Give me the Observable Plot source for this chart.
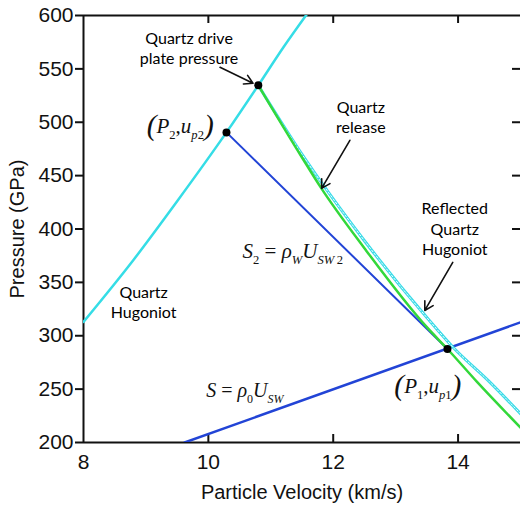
<!DOCTYPE html>
<html><head><meta charset="utf-8">
<script src="https://cdn.jsdelivr.net/npm/d3@7"></script>
<script src="https://cdn.jsdelivr.net/npm/@observablehq/plot@0.6"></script>
<style>body{margin:0;background:#fff} #chart svg{display:block}</style>
</head><body><div id="chart"></div>
<script>
// Quartz Hugoniot (cyan)
const hugoniotU = [8, 8.8, 9.5, 10.29, 10.8, 11.2, 11.6];
const hugoniotP = [313, 371, 426, 490.5, 534.6, 570, 603];
// Quartz release (green)
const releaseU = [10.8, 11.5, 11.8, 12.5, 13.5, 13.83, 14.3, 15];
const releaseP = [534.6, 467, 439, 382, 308, 287.6, 257, 214];
// Reflected quartz Hugoniot (cyan dashed)
const reflectU = [10.8, 11.5, 12.5, 13.5, 13.93, 14.5, 15];
const reflectP = [534.6, 470, 389, 317, 288.5, 257, 227];
// S = rho0 Usw (blue)
const sU = [9.62, 15];
const sP = [200, 312.6];
// S2 = rhoW Usw2 (blue)
const s2U = [10.29, 13.83];
const s2P = [490.5, 287.6];
// Marked states
const pointU = [10.29, 10.8, 13.83];
const pointP = [490.5, 534.6, 287.6];
// Axis ticks
const xTicks = [8, 10, 12, 14];
const yTicks = [200, 250, 300, 350, 400, 450, 500, 550, 600];
// Annotations (text, anchor in data units)
const noteText = ["Quartz drive\nplate pressure", "Quartz\nrelease", "Reflected\nQuartz\nHugoniot", "Quartz\nHugoniot"];
const noteU = [9.691, 12.443, 13.947, 8.963];
const noteP = [554.3, 489.6, 375.2, 316.2];
const noteLH = [1.25, 1.25, 1.3, 1.25];
const arrowU1 = [10.187, 12.267, 13.915];
const arrowP1 = [551.5, 483.1, 368.7];
const arrowU2 = [10.715, 11.814, 13.467];
const arrowP2 = [536.5, 438.1, 323.7];
// Math labels
const mathU = [9.02, 10.555, 9.974, 12.987];
const mathP = [489.6, 372.4, 242.4, 245.8];

const rows = (u, p) => u.map((x, i) => ({u: x, p: p[i]}));
const hug = rows(hugoniotU, hugoniotP);
const rel = rows(releaseU, releaseP);
const refl = rows(reflectU, reflectP);
const sLine = rows(sU, sP);
const s2Line = rows(s2U, s2P);
const pts = rows(pointU, pointP);
const notes = noteText.map((t, i) => ({t, u: noteU[i], p: noteP[i], lh: noteLH[i]}));
const arrows = arrowU1.map((x, i) => ({x1: x, y1: arrowP1[i], x2: arrowU2[i], y2: arrowP2[i]}));

const W = 520, H = 506, mL = 83, mR = 0, mT = 15, mB = 64;
const fw = W - mL - mR, fh = H - mT - mB;

const cyan = "#35dde6", blue = "#2244d6", green = "#33d83a";
const noteFont = "Lato, 'Open Sans', sans-serif";

const plot = Plot.plot({
  width: W, height: H,
  marginLeft: mL, marginRight: mR, marginTop: mT, marginBottom: mB,
  style: {fontFamily: "'Liberation Sans', Arial, sans-serif", fontSize: "21px", color: "#111", background: "#fff"},
  x: {domain: [8, 15]},
  y: {domain: [200, 600]},
  marks: [
    Plot.axisY({ticks: yTicks, tickSize: 8, tickPadding: 2, label: null, strokeWidth: 2, fontSize: 21, tickFormat: d => String(d)}),
    Plot.axisX({ticks: xTicks, tickSize: 0, tickPadding: 12, label: null, fontSize: 21, tickFormat: d => String(d)}),
    Plot.tickX(xTicks.slice(1), {x: d => d, insetTop: fh - 8, strokeWidth: 2}),
    Plot.tickX(xTicks.slice(1), {x: d => d, insetBottom: fh - 8, strokeWidth: 2}),
    Plot.tickY(yTicks.slice(1, -1), {y: d => d, insetLeft: fw - 8, strokeWidth: 2}),
    Plot.ruleY([200, 600], {strokeWidth: 2}),
    Plot.ruleX([8], {strokeWidth: 2}),
    Plot.line(hug, {x: "u", y: "p", stroke: cyan, strokeWidth: 2.5, curve: "monotone-x", clip: true}),
    Plot.line(sLine, {x: "u", y: "p", stroke: blue, strokeWidth: 2.5, clip: true}),
    Plot.line(s2Line, {x: "u", y: "p", stroke: blue, strokeWidth: 2, clip: true}),
    Plot.line(refl, {x: "u", y: "p", stroke: "#3adbe8", strokeWidth: 3, curve: "monotone-x", clip: true}),
    Plot.line(refl, {x: "u", y: "p", stroke: "#f0ffff", strokeWidth: 1, strokeDasharray: "2,2", curve: "monotone-x", clip: true}),
    Plot.line(rel, {x: "u", y: "p", stroke: green, strokeWidth: 2.5, curve: "monotone-x", clip: true}),
    Plot.arrow(arrows, {x1: "x1", y1: "y1", x2: "x2", y2: "y2", stroke: "#111", strokeWidth: 1.6, headLength: 9}),
    ...notes.map(n => Plot.text([n], {x: "u", y: "p", text: "t", lineAnchor: "bottom", lineHeight: n.lh, textAnchor: "middle", fontFamily: noteFont, fontSize: 16, fill: "#000"})),
    Plot.dot(pts, {x: "u", y: "p", r: 4, fill: "#000", stroke: "none"}),
    Plot.text(["Pressure (GPa)"], {frameAnchor: "left", textAnchor: "middle", dx: -66, rotate: -90, fontSize: 20, fill: "#111"}),
    Plot.text(["Particle Velocity (km/s)"], {frameAnchor: "bottom", textAnchor: "middle", dy: 56, lineAnchor: "bottom", fontSize: 20, fill: "#111"})
  ]
});
document.getElementById("chart").append(plot);

// Math labels with subscripts, positioned through the plot's scales
const sx = plot.scale("x"), sy = plot.scale("y");
const svg = d3.select(plot);
const serif = "'Liberation Serif', 'Times New Roman', serif";
function mathLabel(i, parts, size) {
  const t = svg.append("text")
    .attr("x", sx.apply(mathU[i])).attr("y", sy.apply(mathP[i]))
    .attr("text-anchor", "start").attr("font-family", serif)
    .attr("font-size", size).attr("fill", "#111");
  let shift = 0;
  for (const [s, kind] of parts) {
    const ts = t.append("tspan").text(s);
    let target = 0;
    if (kind.includes("sub")) { ts.attr("font-size", size * 0.6); target = size * 0.3; }
    if (kind.includes("big")) { ts.attr("font-size", size * 1.4); target = size * 0.08; }
    if (kind.includes("i")) ts.attr("font-style", "italic");
    ts.attr("dy", target - shift); shift = target;
  }
}
mathLabel(0, [["(", "big"], ["P", "i"], ["2", "sub"], [",", ""], ["u", "i"], ["p", "i sub"], ["2", "sub"], [")", "big"]], 21);
mathLabel(1, [["S", "i"], ["2", "sub"], [" = ", ""], ["ρ", "i"], ["W", "i sub"], ["U", "i"], ["SW", "i sub"], ["\u20092", "sub"]], 21);
mathLabel(2, [["S", "i"], [" = ", ""], ["ρ", "i"], ["0", "sub"], ["U", "i"], ["SW", "i sub"]], 20);
mathLabel(3, [["(", "big"], ["P", "i"], ["1", "sub"], [",", ""], ["u", "i"], ["p", "i sub"], ["1", "sub"], [")", "big"]], 21);
</script>
</body></html>
